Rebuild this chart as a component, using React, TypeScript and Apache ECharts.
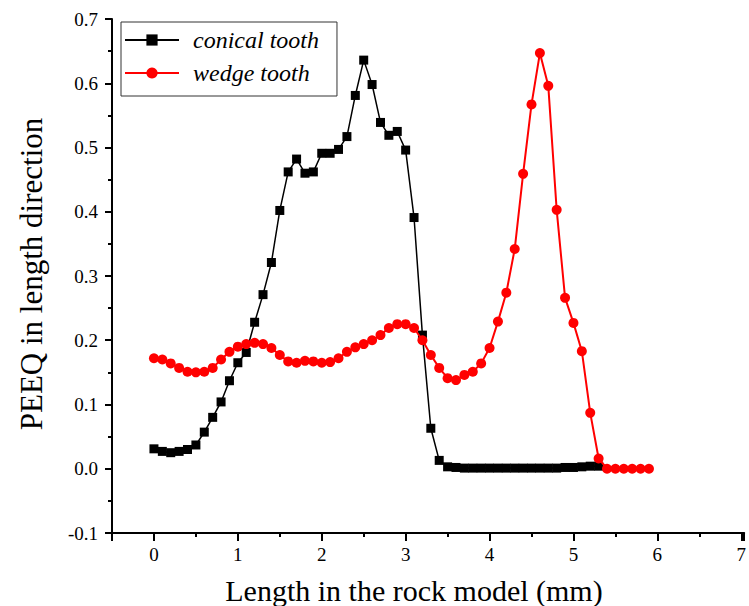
import React, { useEffect, useRef } from "react";
import * as echarts from "echarts";

// Position along the rock model (mm)
const conicalX = [
  0.0, 0.1, 0.2, 0.3, 0.4, 0.5, 0.6, 0.7, 0.8, 0.9,
  1.0, 1.1, 1.2, 1.3, 1.4, 1.5, 1.6, 1.7, 1.8, 1.9,
  2.0, 2.1, 2.2, 2.3, 2.4, 2.5, 2.6, 2.7, 2.8, 2.9,
  3.0, 3.1, 3.2, 3.3, 3.4, 3.5, 3.6, 3.7, 3.8, 3.9,
  4.0, 4.1, 4.2, 4.3, 4.4, 4.5, 4.6, 4.7, 4.8, 4.9,
  5.0, 5.1, 5.2, 5.3,
];
const conicalPEEQ = [
  0.031, 0.027, 0.025, 0.027, 0.030, 0.037, 0.057, 0.080, 0.104, 0.137,
  0.165, 0.181, 0.228, 0.271, 0.321, 0.402, 0.462, 0.482, 0.460, 0.462,
  0.491, 0.491, 0.497, 0.517, 0.581, 0.636, 0.598, 0.539, 0.519, 0.525,
  0.496, 0.391, 0.208, 0.063, 0.013, 0.003, 0.002, 0.001, 0.001, 0.001,
  0.001, 0.001, 0.001, 0.001, 0.001, 0.001, 0.001, 0.001, 0.001, 0.002,
  0.002, 0.003, 0.004, 0.004,
];

const wedgeX = [
  0.0, 0.1, 0.2, 0.3, 0.4, 0.5, 0.6, 0.7, 0.8, 0.9,
  1.0, 1.1, 1.2, 1.3, 1.4, 1.5, 1.6, 1.7, 1.8, 1.9,
  2.0, 2.1, 2.2, 2.3, 2.4, 2.5, 2.6, 2.7, 2.8, 2.9,
  3.0, 3.1, 3.2, 3.3, 3.4, 3.5, 3.6, 3.7, 3.8, 3.9,
  4.0, 4.1, 4.2, 4.3, 4.4, 4.5, 4.6, 4.7, 4.8, 4.9,
  5.0, 5.1, 5.2, 5.3, 5.4, 5.5, 5.6, 5.7, 5.8, 5.9,
];
const wedgePEEQ = [
  0.172, 0.170, 0.164, 0.157, 0.151, 0.150, 0.151, 0.157, 0.170, 0.182,
  0.190, 0.194, 0.196, 0.194, 0.188, 0.177, 0.167, 0.165, 0.168, 0.167,
  0.165, 0.166, 0.172, 0.182, 0.189, 0.194, 0.200, 0.208, 0.219, 0.225,
  0.225, 0.219, 0.200, 0.177, 0.157, 0.141, 0.138, 0.146, 0.151, 0.164,
  0.188, 0.229, 0.274, 0.342, 0.459, 0.567, 0.647, 0.596, 0.403, 0.266,
  0.227, 0.183, 0.087, 0.016, 0.000, 0.000, 0.000, 0.000, 0.000, 0.000,
];

const X_MIN = -0.5;
const X_MAX = 7.035;
const Y_MIN = -0.1;
const Y_MAX = 0.7;

const SERIF = "Liberation Serif";

export default function App() {
  const ref = useRef<HTMLDivElement>(null);

  useEffect(() => {
    if (!ref.current) return;
    const chart = echarts.init(ref.current, null, { renderer: "svg" });

    const pairs = (xs: number[], ys: number[]) => xs.map((x, i) => [x, ys[i]]);
    const axisLineStyle = { color: "#000", width: 2 };
    const isWhole = (v: number) => Math.abs(v - Math.round(v)) < 1e-6;

    chart.setOption({
      animation: false,
      backgroundColor: "#ffffff",
      textStyle: { fontFamily: SERIF, color: "#000" },
      grid: { left: 112, right: 0, top: 19, bottom: 73, containLabel: false },
      legend: {
        orient: "vertical",
        left: 121,
        top: 22,
        padding: [6, 18, 11, 3],
        itemWidth: 54,
        itemHeight: 14,
        itemGap: 9,
        borderColor: "#333",
        borderWidth: 1,
        data: ["conical tooth", "wedge tooth"],
        textStyle: {
          fontFamily: SERIF,
          fontStyle: "italic",
          fontSize: 24,
          color: "#000",
          lineHeight: 20,
          padding: [0, 0, 0, 9],
        },
      },
      xAxis: [
        {
          // whole-millimetre ticks and labels
          type: "value",
          min: X_MIN,
          max: X_MAX,
          splitNumber: 8,
          minInterval: 1,
          maxInterval: 1,
          axisLine: { show: true, onZero: false, lineStyle: axisLineStyle },
          axisTick: { show: true, length: 8, lineStyle: axisLineStyle },
          axisLabel: {
            margin: 12,
            fontFamily: SERIF,
            fontSize: 19,
            color: "#000",
            showMinLabel: true,
            showMaxLabel: true,
            hideOverlap: false,
            formatter: (v: number) => (isWhole(v) ? String(Math.round(v)) : ""),
          },
          splitLine: { show: false },
        },
        {
          // half-millimetre ticks, counted from -0.5
          type: "value",
          position: "bottom",
          min: X_MIN,
          max: X_MAX,
          interval: 1,
          axisLine: { show: false, onZero: false },
          axisTick: { show: true, length: 4, lineStyle: axisLineStyle },
          axisLabel: { show: false },
          splitLine: { show: false },
        },
      ],
      yAxis: {
        type: "value",
        min: Y_MIN,
        max: Y_MAX,
        interval: 0.1,
        axisLine: { show: true, onZero: false, lineStyle: axisLineStyle },
        axisTick: { show: true, length: 7, lineStyle: axisLineStyle },
        minorTick: { show: true, splitNumber: 2, length: 4, lineStyle: axisLineStyle },
        axisLabel: {
          margin: 14,
          fontFamily: SERIF,
          fontSize: 19,
          color: "#000",
          formatter: (v: number) => (Math.round(v * 10) / 10).toFixed(1),
        },
        splitLine: { show: false },
        minorSplitLine: { show: false },
      },
      graphic: [
        {
          type: "text",
          x: 414,
          y: 590,
          style: {
            text: "Length in the rock model (mm)",
            fontFamily: SERIF,
            fontSize: 30,
            fill: "#000",
            align: "center",
            verticalAlign: "middle",
          },
        },
        {
          type: "text",
          x: 31,
          y: 274,
          rotation: Math.PI / 2,
          style: {
            text: "PEEQ in length direction",
            fontFamily: SERIF,
            fontSize: 31,
            fill: "#000",
            align: "center",
            verticalAlign: "middle",
          },
        },
      ],
      series: [
        {
          name: "conical tooth",
          type: "line",
          xAxisIndex: 0,
          data: pairs(conicalX, conicalPEEQ),
          symbol: "rect",
          symbolSize: 9,
          showAllSymbol: true,
          itemStyle: { color: "#000" },
          lineStyle: { color: "#000", width: 1.5 },
          z: 2,
        },
        {
          name: "wedge tooth",
          type: "line",
          xAxisIndex: 0,
          data: pairs(wedgeX, wedgePEEQ),
          symbol: "circle",
          symbolSize: 10,
          showAllSymbol: true,
          itemStyle: { color: "#ff0000" },
          lineStyle: { color: "#ff0000", width: 2 },
          z: 3,
        },
      ],
    });

    return () => chart.dispose();
  }, []);

  return (
    <div
      ref={ref}
      style={{ position: "fixed", left: 0, top: 0, width: 749, height: 606, background: "#fff" }}
    />
  );
}
